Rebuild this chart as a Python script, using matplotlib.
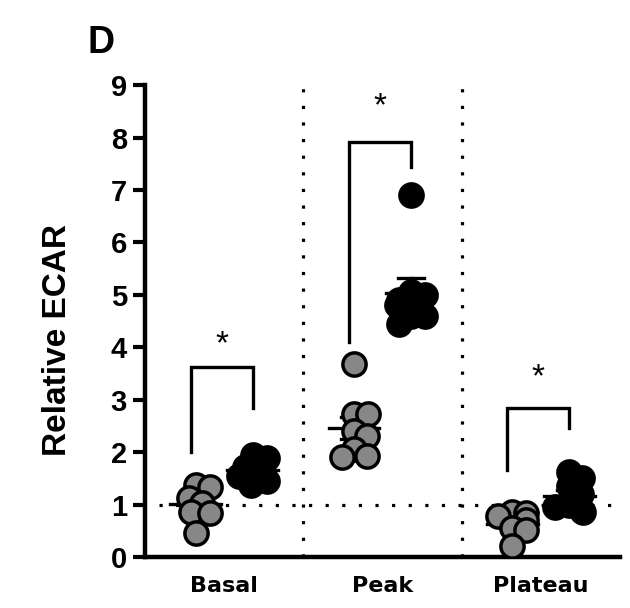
import numpy as np
import matplotlib.pyplot as plt

# Relative ECAR per phase, control (grey) vs treated (black)
groups = ["Basal", "Peak", "Plateau"]
basal_ctrl = [1.37, 1.34, 1.13, 1.03, 0.86, 0.84, 0.46]
basal_trt = [1.95, 1.88, 1.72, 1.62, 1.55, 1.45, 1.38]
peak_ctrl = [3.68, 2.72, 2.72, 2.40, 2.30, 2.05, 1.92, 1.90]
peak_trt = [6.90, 5.05, 5.00, 4.90, 4.80, 4.60, 4.60, 4.45]
plateau_ctrl = [0.86, 0.84, 0.78, 0.70, 0.55, 0.52, 0.21]
plateau_trt = [1.62, 1.50, 1.35, 1.20, 1.00, 0.95, 0.88, 0.85]

ctrl = [basal_ctrl, peak_ctrl, plateau_ctrl]
trt = [basal_trt, peak_trt, plateau_trt]

# significance brackets: left foot, top, right foot, star height
brk_left = [2.00, 4.10, 1.66]
brk_top = [3.63, 7.92, 2.84]
brk_right = [2.84, 7.44, 2.46]
star_y = [4.05, 8.59, 3.42]

plt.rcParams['font.family'] = ['Liberation Sans', 'DejaVu Sans']

W, H = 630, 608
fig = plt.figure(figsize=(W / 100, H / 100), dpi=100)
ax = fig.add_axes([0.230, 0.084, 0.754, 0.776])
ax.set_xlim(-0.5, 2.5)
ax.set_ylim(0, 9)

# pixel scale, used to spread overlapping points sideways
px_x = 0.754 * W / 3.0
px_y = 0.776 * H / 9.0


def swarm(vals, center, gap=14.0, step=1.0, limit=14.0):
    placed = []
    xs = []
    for v in vals:
        best = 0.0
        k = 0
        while k * step <= limit:
            hit = None
            for off in ([0.0] if k == 0 else [k * step, -k * step]):
                if all((off - px) ** 2 + ((v - py) * px_y) ** 2 >= gap ** 2
                       for px, py in placed):
                    hit = off
                    break
            if hit is not None:
                best = hit
                break
            k += 1
        else:
            best = limit if len(placed) % 2 else -limit
        placed.append((best, v))
        xs.append(center + best / px_x)
    return np.array(xs)


def sem(v):
    v = np.asarray(v)
    return v.std(ddof=1) / np.sqrt(len(v))


dot = (0, (1.0, 4.2))
ax.axhline(1, xmin=0.03, xmax=1.0, color='black', lw=2.3, ls=dot, zorder=1)
for xs in (0.5, 1.5):
    ax.axvline(xs, color='black', lw=2.3, ls=dot, zorder=1)

for i in range(3):
    for vals, dx, fc in ((ctrl[i], -0.18, '#878787'), (trt[i], 0.18, 'black')):
        c = i + dx
        m = np.mean(vals)
        e = sem(vals)
        ax.plot([c - 0.16, c + 0.16], [m, m], color='black', lw=2.4, zorder=2)
        ax.plot([c, c], [m - e, m + e], color='black', lw=2.4, zorder=2)
        for y in (m - e, m + e):
            ax.plot([c - 0.08, c + 0.08], [y, y], color='black', lw=2.4, zorder=2)
        ys = sorted(vals, reverse=True)
        xs = swarm(ys, c)
        ax.scatter(xs, ys, s=280, facecolor=fc,
                   edgecolor='black', linewidth=2.5, zorder=3)

    # bracket and star
    xl, xr = i - 0.21, i + 0.18
    ax.plot([xl, xl, xr, xr], [brk_left[i], brk_top[i], brk_top[i], brk_right[i]],
            color='black', lw=2.4, solid_joinstyle='miter', zorder=2)
    ax.text((xl + xr) / 2, star_y[i], '*', ha='center', va='center',
            fontsize=24, zorder=4)

for s in ('top', 'right'):
    ax.spines[s].set_visible(False)
for s in ('left', 'bottom'):
    ax.spines[s].set_linewidth(3.2)

ax.set_yticks(range(10))
ax.tick_params(axis='y', length=9, width=3, pad=4, labelsize=21)
for t in ax.get_yticklabels():
    t.set_fontweight('bold')
ax.set_xticks(range(3))
ax.set_xticklabels(groups, fontsize=16, fontweight='bold', family='DejaVu Sans')
ax.tick_params(axis='x', length=0, pad=14)

fig.text(57 / W, 1 - 340 / H, 'Relative ECAR', rotation=90, ha='center',
         va='center', fontsize=24, fontweight='bold')
fig.text(101 / W, 1 - 43 / H, 'D', ha='center', va='center', fontsize=27,
         fontweight='bold')

fig.savefig('out.png', dpi=100)
